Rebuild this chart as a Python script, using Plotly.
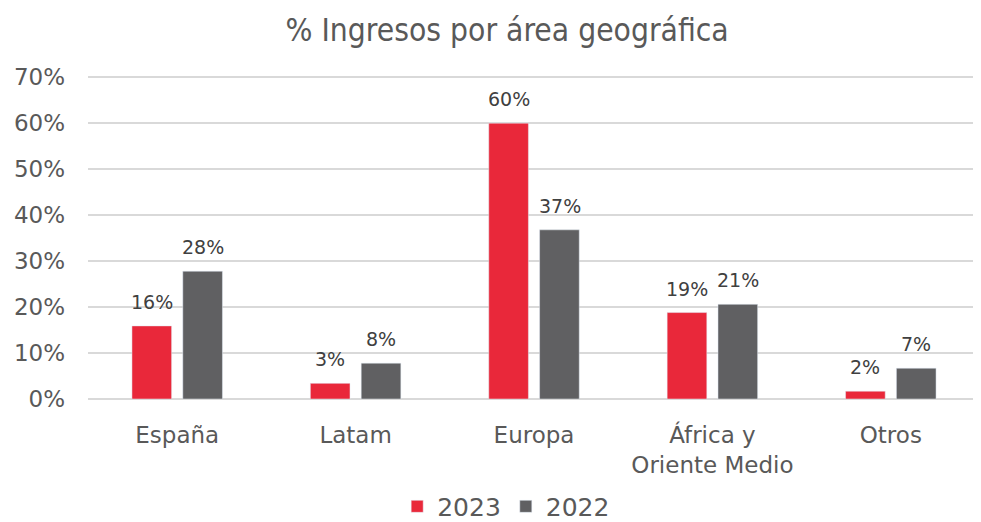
import plotly.graph_objects as go

categories = ["España", "Latam", "Europa", "África y<br>Oriente Medio", "Otros"]
values_2023 = [15.9, 3.4, 60.0, 18.8, 1.7]
values_2022 = [27.8, 7.8, 36.8, 20.6, 6.7]
labels_2023 = ["16%", "3%", "60%", "19%", "2%"]
labels_2022 = ["28%", "8%", "37%", "21%", "7%"]
tick_vals = [0, 10, 20, 30, 40, 50, 60, 70]
tick_text = ["0%", "10%", "20%", "30%", "40%", "50%", "60%", "70%"]

FONT = "DejaVu Sans"
TXT = "#595959"
LBL = "#404040"
RED = "#E9283A"
GRAY = "#606062"

fig = go.Figure()
fig.add_trace(go.Bar(name="2023", x=categories, y=values_2023, marker_color=RED))
fig.add_trace(go.Bar(name="2022", x=categories, y=values_2022, marker_color=GRAY))

# data labels above bars
for cat, v, t in zip(categories, values_2023, labels_2023):
    fig.add_annotation(x=cat, y=v, text=t, showarrow=False, xshift=-25.5, yshift=11,
                       yanchor="bottom", font=dict(size=19, color=LBL, family=FONT))
for cat, v, t in zip(categories, values_2022, labels_2022):
    fig.add_annotation(x=cat, y=v, text=t, showarrow=False, xshift=25.5, yshift=11,
                       yanchor="bottom", font=dict(size=19, color=LBL, family=FONT))

fig.update_layout(
    width=973, height=514,
    margin=dict(l=80, r=1, t=60, b=123),
    paper_bgcolor="white", plot_bgcolor="white",
    barmode="group", bargap=0.43, bargroupgap=0.22,
    title=dict(text="% Ingresos por área geográfica", x=0.513, xanchor="center",
               y=0.957, yanchor="middle",
               font=dict(family="DejaVu Sans Condensed, DejaVu Sans", size=31.5, color=TXT)),
    font=dict(family=FONT, color=TXT),
    showlegend=True,
    legend=dict(orientation="h", xref="container", x=0.512, xanchor="center",
                yref="container", y=0.03, yanchor="middle",
                font=dict(size=25, color=TXT, family=FONT),
                traceorder="normal"),
)
fig.update_yaxes(range=[0, 72], tickvals=tick_vals, ticktext=tick_text, automargin=False,
                 showgrid=True, gridcolor="#D9D9D9", gridwidth=2,
                 zeroline=True, zerolinecolor="#D9D9D9", zerolinewidth=2,
                 tickfont=dict(size=23, color=TXT, family=FONT), ticks="", ticklabelstandoff=22)
fig.update_xaxes(tickfont=dict(size=23, color=TXT, family=FONT), showline=False, ticks="",
                 automargin=False, ticklabelstandoff=20)

fig.write_html("out.html")
